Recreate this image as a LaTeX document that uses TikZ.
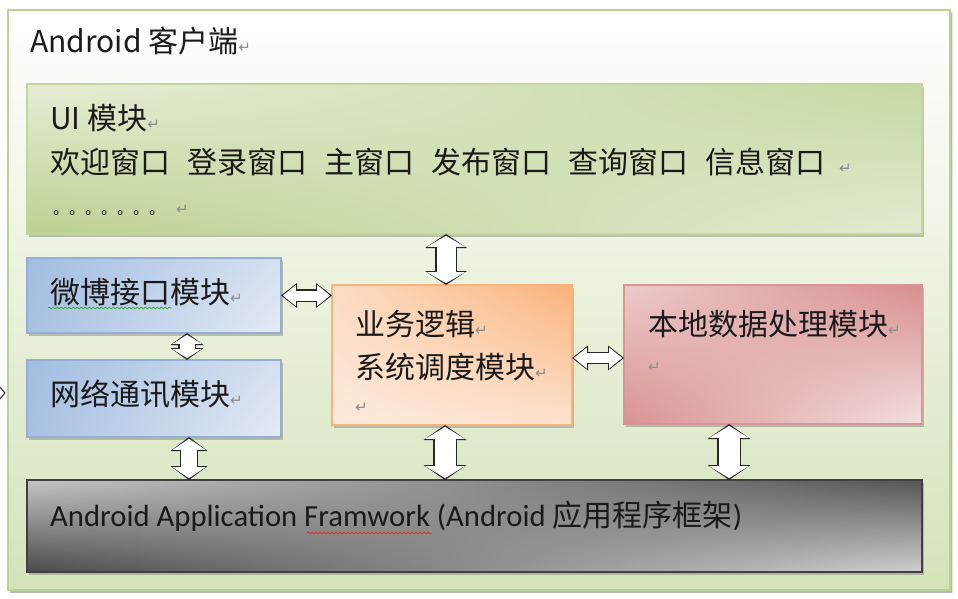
\documentclass[tikz,border=0pt]{standalone}
\usepackage{fontspec}
\setmainfont{Noto Sans CJK SC}
\newfontfamily\calibrifont{Carlito}
\newfontfamily\markfont{DejaVu Sans}
\usetikzlibrary{arrows.meta}
\usetikzlibrary{shadows,shadings}
\usetikzlibrary{decorations.pathmorphing}
\definecolor{frameLine}{HTML}{BBD296}
\definecolor{frameFill}{HTML}{D5E3BA}
\definecolor{uiLine}{HTML}{C3D69F}
\definecolor{uiUL}{HTML}{E6EED6}
\definecolor{uiUR}{HTML}{C6D8A2}
\definecolor{uiLL}{HTML}{BCD090}
\definecolor{uiLR}{HTML}{E3ECD2}
\definecolor{blueLine}{HTML}{93AFD6}
\definecolor{blueUL}{HTML}{A3BDE0}
\definecolor{blueUR}{HTML}{D5E0F0}
\definecolor{blueLL}{HTML}{A9C1E2}
\definecolor{blueLR}{HTML}{E4EBF5}
\definecolor{orangeLine}{HTML}{F9B47E}
\definecolor{orangeUL}{HTML}{FCDDC3}
\definecolor{orangeUR}{HTML}{FAB27B}
\definecolor{orangeLL}{HTML}{FDEADD}
\definecolor{orangeLR}{HTML}{FDE3CF}
\definecolor{pinkLine}{HTML}{D79595}
\definecolor{pinkUL}{HTML}{EDCBCB}
\definecolor{pinkUR}{HTML}{D78D8D}
\definecolor{pinkLL}{HTML}{D89292}
\definecolor{pinkLR}{HTML}{F4E1E1}
\definecolor{grayLine}{HTML}{404040}
\definecolor{grayUL}{HTML}{C4C4C4}
\definecolor{grayUR}{HTML}{555555}
\definecolor{grayLL}{HTML}{4A4A4A}
\definecolor{grayLR}{HTML}{D0D0D0}
\definecolor{textBlack}{HTML}{1A1A1A}
\definecolor{markGray}{HTML}{8C8C8C}
\definecolor{spellGreen}{HTML}{3FAF3F}
\definecolor{spellRed}{HTML}{E03030}
\colorlet{arrowLine}{black!85}
\newcommand{\ret}{{\markfont\fontsize{15}{15}\selectfont\textcolor{markGray}{↵}}}
\newcommand{\gap}{\hspace{17pt}}
% shaft, head width, head length, from, to
\newcommand{\dblarrow}[5]{%
  \pgfmathsetmacro\shaftout{#1+2.4}%
  \pgfmathsetmacro\headout{#2+4}%
  \pgfmathsetmacro\lenout{#3+3}%
  \draw[arrowLine, line width=\shaftout pt,
    {Triangle[length=\lenout pt,width=\headout pt,line width=0pt]}-{Triangle[length=\lenout pt,width=\headout pt,line width=0pt]}] #4 -- #5;
  \draw[white, line width=#1pt, shorten <=1.8pt, shorten >=1.8pt,
    {Triangle[length=#3pt,width=#2pt,line width=0pt]}-{Triangle[length=#3pt,width=#2pt,line width=0pt]}] #4 -- #5;}
\tikzset{
  box/.style={draw, line width=1.2pt, inner sep=0pt, outer sep=0pt, anchor=north west,
    drop shadow={shadow xshift=1.5pt, shadow yshift=-3pt, opacity=.45}},
  framebox/.style={box, draw=frameLine, line width=1.6pt, top color=white, bottom color=frameFill,
    drop shadow={shadow xshift=2.5pt, shadow yshift=-2.5pt, opacity=.2}},
  uibox/.style={box, draw=uiLine, upper left=uiUL, upper right=uiUR, lower left=uiLL, lower right=uiLR},
  bluebox/.style={box, draw=blueLine, upper left=blueUL, upper right=blueUR, lower left=blueLL, lower right=blueLR},
  orangebox/.style={box, draw=orangeLine, upper left=orangeUL, upper right=orangeUR, lower left=orangeLL, lower right=orangeLR},
  pinkbox/.style={box, draw=pinkLine, upper left=pinkUL, upper right=pinkUR, lower left=pinkLL, lower right=pinkLR},
  graybox/.style={box, draw=grayLine, upper left=grayUL, upper right=grayUR, lower left=grayLL, lower right=grayLR},
  txt/.style={anchor=base west, inner sep=0pt, text=textBlack, font=\fontsize{30}{36}\selectfont},
  spell/.style={decorate, decoration={snake, amplitude=.9pt, segment length=4pt}, line width=.8pt},
}
\begin{document}
\begin{tikzpicture}[x=1pt,y=-1pt]
\useasboundingbox[fill=white] (0,0) rectangle (958,599);
\node[framebox, minimum width=942, minimum height=580] (client) at (8,10) {};
\node[uibox, minimum width=895, minimum height=150] (ui) at (27,84) {};
\node[bluebox, minimum width=254, minimum height=75] (wb) at (27,258) {};
\node[bluebox, minimum width=254, minimum height=77] (net) at (27,360) {};
\node[orangebox, minimum width=240, minimum height=140] (biz) at (332,285) {};
\node[pinkbox, minimum width=298, minimum height=139] (local) at (624,285) {};
\node[graybox, minimum width=895, minimum height=92] (fw) at (27,480) {};
% block arrows between the modules
\dblarrow{19}{38}{11}{([xshift=-6]biz.north |- ui.south)}{([xshift=-6]biz.north)}
\dblarrow{10}{21}{13}{(wb.east)}{(wb.east -| biz.west)}
\dblarrow{15}{29}{9}{([xshift=33]wb.south)}{([xshift=33]net.north)}
\dblarrow{10}{21}{13}{([yshift=-3]biz.east)}{([yshift=-3]biz.east -| local.west)}
\dblarrow{16}{33}{11}{([xshift=35]net.south)}{([xshift=35]net.south |- fw.north)}
\dblarrow{21}{39}{12}{([xshift=-7]biz.south)}{([xshift=-7]biz.south |- fw.north)}
\dblarrow{21}{39}{12}{([xshift=-44]local.south)}{([xshift=-44]local.south |- fw.north)}
\draw[arrowLine, line width=1pt] (-1,386) -- (5,393) -- (-1,400);
% texts
\node[txt] (title) at (30,53) {Android 客户端\ret};
\node[txt] (uititle) at (50,130) {UI 模块\ret};
\node[txt] (uiwins) at (50,173) {欢迎窗口\gap 登录窗口\gap 主窗口\gap 发布窗口\gap 查询窗口\gap 信息窗口\hspace{14pt}\ret};
\node[txt] (uidots) at (53,214) {\fontsize{16}{20}\selectfont 。。。。。。。\hspace{11pt}\ret};
\node[txt] (wbtxt) at (50,303) {微博接口模块\ret};
\node[txt] (nettxt) at (50,405) {网络通讯模块\ret};
\node[txt] (biztxt) at (355,335) {业务逻辑\ret};
\node[txt] (biztxt2) at (355,378) {系统调度模块\ret};
\node[txt] (biztxt3) at (355,412) {\ret};
\node[txt] (loctxt) at (648,335) {本地数据处理模块\ret};
\node[txt] (loctxt2) at (648,372) {\ret};
\node[txt] (fwtxt) at (50,526) {{\calibrifont\fontsize{30.7}{36}\selectfont Android Application Framwork (Android }应用程序框架{\calibrifont\fontsize{30.7}{36}\selectfont )}\ret};
\draw[spellGreen, spell] (48,308) -- (172,308);% wavy marks
\draw[spellRed, spell] (307,533) -- (432,533);
\end{tikzpicture}
\end{document}
